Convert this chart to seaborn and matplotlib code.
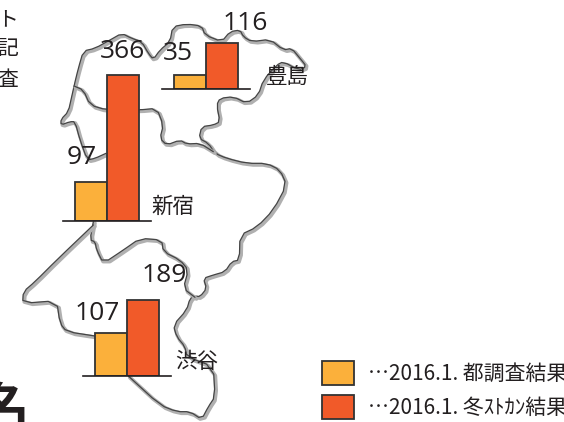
import matplotlib
matplotlib.use("Agg")
import matplotlib.pyplot as plt
import pandas as pd
import seaborn as sns
from matplotlib.patches import Rectangle

sns.set_theme(style="white")
FONT = ["Noto Sans CJK JP", "DejaVu Sans"]
plt.rcParams["font.family"] = FONT

W, H = 564, 422
wards = ["新宿", "豊島", "渋谷"]
survey_2016 = [97, 35, 107]
count_2016 = [366, 116, 189]
series = ["…2016.1. 都調査結果", "…2016.1. 冬ｽﾄｶﾝ結果"]
colors = ["#FBB03B", "#F15A29"]
edge = "#333333"
ink = "#231F20"

# decorative ward map outlines (3x zoomed pixel tracing)
outer = [(318,460),(285,475),(262,480),(240,420),(225,365),(210,365),(183,375),(183,358),(205,335),(215,290),(222,258),
         (235,205),(250,153),(285,145),(330,120),(365,100),(395,115),(425,125),(445,160),(460,178),(480,150),(510,125),
         (518,80),(560,72),(605,78),(615,105),(665,125),(690,95),(720,90),(730,110),(755,125),(810,118),(850,150),
         (875,145),(900,175),(920,200),(895,210),(850,185),(830,195),(790,240),(775,285),(740,310),(700,290),(660,295),
         (650,315),(660,365),(640,375),(605,380),(597,415),(625,430),(645,460),(680,475),(740,490),(800,490),(840,510),
         (860,555),(820,630),(771,681),(720,705),(718,780),(695,785),(675,815),(640,825),(610,835),
         (620,865),(600,890),(585,888),(570,895),(560,930),(520,975),(530,1010),(555,1040),(560,1070),(640,1100),
         (645,1190),(625,1220),(605,1258),(570,1235),(530,1235),(480,1215),(385,1128)]
inner_north = [(222,258),(250,270),(270,315),(320,330),(415,330),(470,325),(490,375),(480,415),(500,435),(540,420),
               (560,432),(600,430),(640,455)]
shibuya_top = [(585,892),(550,865),(565,810),(540,780),(490,755),(485,720),(420,715),(370,750),(310,790),(290,750),
               (285,725),(270,720),(280,665)]
shibuya_left = [(280,675),(170,780),(105,845),(70,875),(68,910),(170,902),(180,970),(200,995),(285,1008)]
map_lines = [outer, inner_north, shibuya_top, shibuya_left]


def rounded(points):
    out = [points[0]]
    for a, b in zip(points, points[1:]):
        out.append((0.75 * a[0] + 0.25 * b[0], 0.75 * a[1] + 0.25 * b[1]))
        out.append((0.25 * a[0] + 0.75 * b[0], 0.25 * a[1] + 0.75 * b[1]))
    out.append(points[-1])
    return out


fig = plt.figure(figsize=(W / 100, H / 100), dpi=100, facecolor="white")
base = fig.add_axes([0, 0, 1, 1])
base.set_xlim(0, W)
base.set_ylim(H, 0)
base.axis("off")
for line in map_lines:
    smooth = rounded(line)
    xs = [p[0] / 3 for p in smooth]
    ys = [p[1] / 3 for p in smooth]
    base.plot([x + 1.5 for x in xs], [y + 1.5 for y in ys], color="#B0B0B0", lw=2.8, solid_joinstyle="round")
    base.plot(xs, ys, color="#444444", lw=0.9, solid_joinstyle="round")

panels = [(63, 221), (162, 89), (83, 376)]
for i, (left, bottom) in enumerate(panels):
    ax = fig.add_axes([left / W, 1 - bottom / H, 88 / W, 160 / H])
    df = pd.DataFrame({"kind": series, "value": [survey_2016[i], count_2016[i]]})
    sns.barplot(data=df, x="kind", y="value", hue="kind", palette=colors, width=1, dodge=False, saturation=1,
                legend=False, edgecolor=edge, linewidth=1.3, ax=ax)
    ax.set_xlim(-0.875, 1.875)
    ax.set_ylim(0, 400)
    ax.patch.set_visible(False)
    ax.set_xlabel("")
    ax.set_ylabel("")
    ax.set_xticks([])
    ax.set_yticks([])
    for s in ("top", "left", "right"):
        ax.spines[s].set_visible(False)
    ax.spines["bottom"].set_color(ink)
    ax.spines["bottom"].set_linewidth(1.2)

value_pos = [((82, 158), (122, 52)), ((178, 53), (245, 24)), ((97, 313), (164, 275))]
for i, (p1, p2) in enumerate(value_pos):
    base.text(*p1, str(survey_2016[i]), fontsize=19, color=ink, ha="center", va="center", family="Open Sans")
    base.text(*p2, str(count_2016[i]), fontsize=19, color=ink, ha="center", va="center", family="Open Sans")

ward_pos = [(173, 207), (287, 77), (197, 362)]
for name, (x, y) in zip(wards, ward_pos):
    base.text(x, y, name, fontsize=15.5, color=ink, ha="center", va="center")

for ch, y in zip(["ト", "記", "査"], [19, 49, 80]):
    base.text(18, y, ch, fontsize=15, color=ink, ha="right", va="center")
base.text(30, 410, "名", fontsize=38, fontweight="bold", color=ink, ha="right", va="center")

legend_y = [361, 395]
for label, color, y in zip(series, colors, legend_y):
    base.add_patch(Rectangle((322, y), 32, 24, facecolor=color, edgecolor=edge, lw=1.3))
    base.text(368, y + 12.5, label, fontsize=15, color=ink, ha="left", va="center", family=FONT)

fig.savefig("out.png", dpi=100)
